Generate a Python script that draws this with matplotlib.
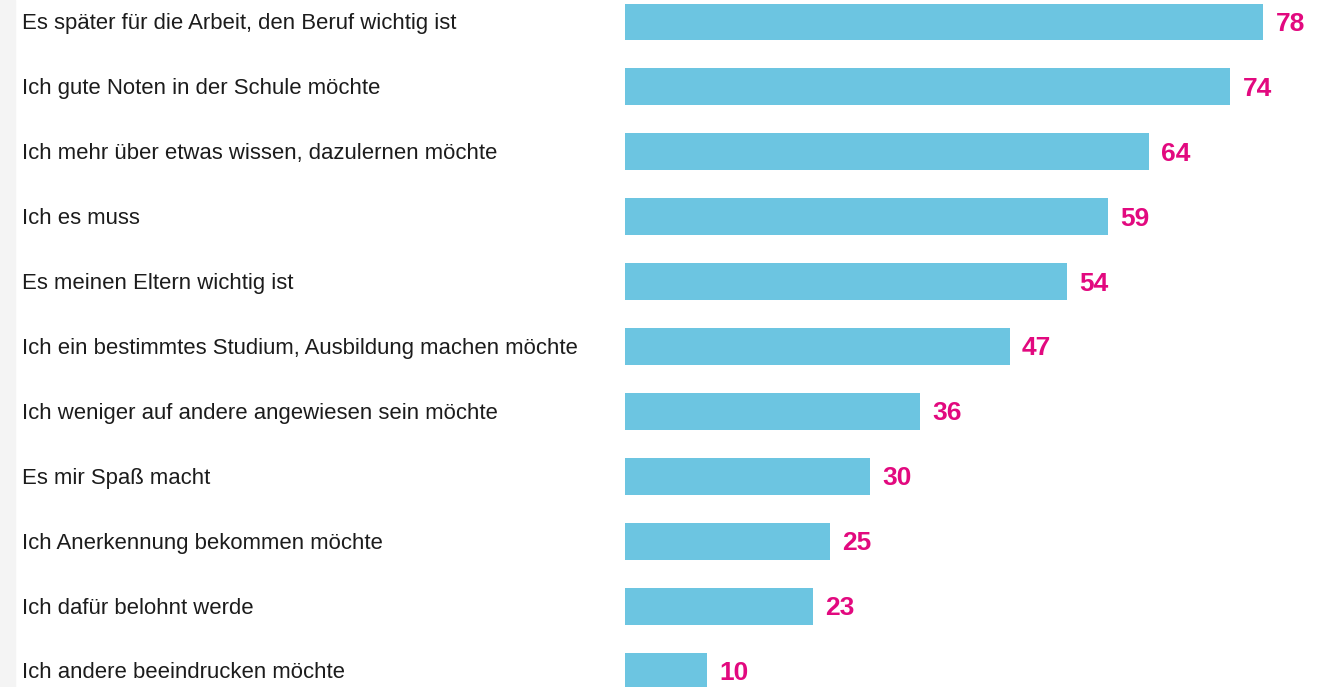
import matplotlib.pyplot as plt
import matplotlib.transforms as mtransforms

labels = [
    "Es später für die Arbeit, den Beruf wichtig ist",
    "Ich gute Noten in der Schule möchte",
    "Ich mehr über etwas wissen, dazulernen möchte",
    "Ich es muss",
    "Es meinen Eltern wichtig ist",
    "Ich ein bestimmtes Studium, Ausbildung machen möchte",
    "Ich weniger auf andere angewiesen sein möchte",
    "Es mir Spaß macht",
    "Ich Anerkennung bekommen möchte",
    "Ich dafür belohnt werde",
    "Ich andere beeindrucken möchte",
]
values = [78, 74, 64, 59, 54, 47, 36, 30, 25, 23, 10]

bar_color = "#6cc5e1"
num_color = "#e2097f"

fig = plt.figure(figsize=(13.18, 6.87), dpi=100)
ax = fig.add_axes([0, 0, 1, 1])

ypos = list(range(len(values)))
ax.barh(ypos, values, height=0.57, color=bar_color)

# pixel mapping: bar start at x=625px, 78 ends at ~1263px
ax.set_xlim(-76.4, 84.7)
ax.set_ylim(10.246, -0.339)
ax.axis("off")

trans = mtransforms.blended_transform_factory(fig.transFigure, ax.transData)
for y, lab in zip(ypos, labels):
    ax.text(22 / 1318, y + 0.03, lab, transform=trans, ha="left", va="center",
            fontsize=15.9, color="#1c1c1c", family="Liberation Sans")

for y, v in zip(ypos, values):
    ax.text(v + 1.5, y + 0.03, str(v), ha="left", va="center", fontsize=19,
            fontweight="bold", color=num_color, family="Liberation Sans")

# faint grey strip on the left edge
fig.patches.append(plt.Rectangle((0, 0), 15 / 1318, 1, transform=fig.transFigure,
                                 color="#f4f4f4", zorder=0))

fig.savefig("out.png", dpi=100)
